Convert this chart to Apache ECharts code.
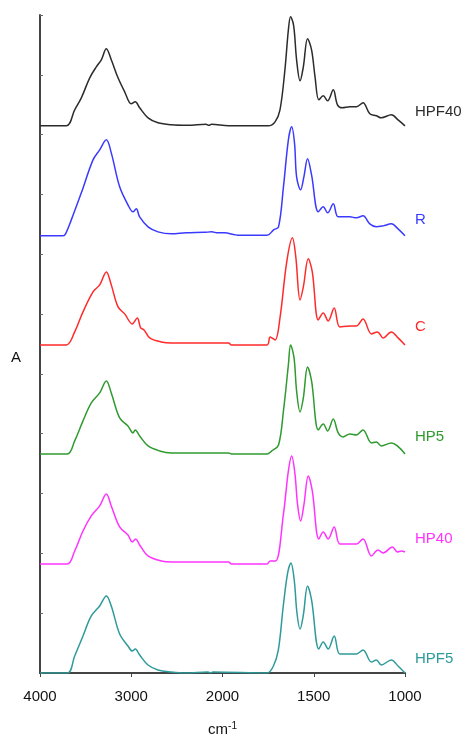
<!DOCTYPE html>
<html>
<head>
<meta charset="utf-8">
<script src="https://cdn.jsdelivr.net/npm/echarts@6/dist/echarts.min.js"></script>
<style>
  html, body { margin: 0; padding: 0; background: #fff; }
  #chart { width: 465px; height: 736px; }
</style>
</head>
<body>
<div id="chart"></div>
<script>
// FTIR spectra, stacked. x axis is split: 4000-2000 compressed, 2000-1000 expanded x2
var tickLabels = ['4000', '3000', '2000', '1500', '1000'];
var names = ['HPF40', 'R', 'C', 'HP5', 'HP40', 'HPF5'];
var colors = ['#2b2b2b', '#3a3aff', '#ff2a2a', '#2f9a2f', '#ff33ff', '#2e9a9a'];
var offsets = [547, 437, 328, 219, 109, 0];

// [wavenumber, absorbance] (arbitrary units)
var hpf40 = [[4000,0],[3712,0],[3620,16],[3547,28],[3455,48],[3383,59],[3328,66],[3273,77],[3219,66],[3145,48],[3072,34],[3000,22],[2956,24],[2908,18],[2816,8],[2707,3],[2561,1],[2380,0.5],[2180,1.5],[2150,0.5],[2120,1.5],[1967,0],[1749,0],[1712,4],[1685,16],[1658,56],[1639,96],[1627,109],[1610,100],[1594,66],[1575,45],[1557,59],[1534,87],[1512,76],[1493,49],[1472,26],[1448,30],[1424,25],[1393,36],[1370,21],[1344,18],[1302,19],[1266,19],[1230,23],[1193,12],[1157,10],[1130,8],[1075,11],[1038,6],[1000,0]];
var r = [[4000,0],[3748,0],[3720,2],[3657,16],[3547,43],[3419,76],[3346,86],[3273,96],[3219,83],[3127,49],[3036,31],[2981,24],[2945,27],[2908,19],[2816,9],[2707,4],[2561,2],[2400,3],[2200,3.5],[2120,4],[2050,3],[1990,3],[1930,1],[1902,0.5],[1756,0.5],[1720,6],[1693,9],[1666,49],[1639,96],[1621,109],[1605,92],[1594,59],[1572,46],[1554,59],[1534,77],[1512,61],[1475,24],[1448,29],[1424,23],[1393,32],[1366,19],[1302,19],[1266,18],[1230,20],[1193,12],[1157,9],[1120,10],[1075,12],[1038,7],[1000,0]];
var c = [[4000,0],[3712,0],[3620,13],[3529,33],[3419,53],[3346,60],[3273,73],[3219,60],[3145,38],[3072,31],[2989,21],[2934,27],[2897,17],[2860,15],[2798,7],[2671,3],[2561,2],[1967,2],[1951,0],[1756,0],[1739,8],[1712,5],[1685,27],[1648,83],[1617,107],[1599,89],[1575,45],[1557,58],[1530,86],[1508,73],[1475,25],[1448,32],[1421,24],[1388,37],[1357,18],[1302,19],[1266,19],[1230,26],[1184,11],[1151,13],[1120,7],[1075,13],[1038,7],[1000,0]];
var hp5 = [[4000,0],[3701,0],[3620,13],[3529,33],[3438,51],[3346,61],[3273,73],[3219,61],[3127,36],[3036,28],[2981,21],[2956,24],[2908,18],[2816,8],[2689,3],[2561,1],[1967,1],[1951,0],[1756,0],[1730,3],[1693,9],[1666,43],[1639,89],[1627,109],[1608,96],[1594,63],[1575,42],[1557,56],[1534,87],[1512,73],[1475,24],[1448,30],[1424,23],[1393,35],[1366,21],[1339,17],[1302,20],[1266,19],[1230,24],[1184,11],[1157,12],[1130,8],[1075,11],[1000,0]];
var hp40 = [[4000,0],[3701,0],[3620,13],[3529,33],[3438,48],[3346,58],[3273,70],[3219,58],[3127,37],[3036,29],[2989,22],[2952,25],[2908,19],[2816,8],[2671,3],[2561,2],[1967,2],[1951,0],[1756,0],[1739,3],[1709,3],[1666,50],[1639,93],[1621,108],[1603,90],[1589,60],[1572,43],[1554,59],[1530,88],[1508,73],[1472,25],[1448,32],[1421,25],[1388,37],[1357,20],[1302,20],[1266,20],[1230,25],[1184,8],[1148,14],[1120,11],[1069,17],[1042,12],[1020,13],[1000,12]];
var hpf5 = [[4000,0],[3701,0],[3620,17],[3529,37],[3438,57],[3346,67],[3273,77],[3219,67],[3127,39],[3036,27],[2989,22],[2956,24],[2908,18],[2816,8],[2707,3],[2561,1],[2400,0],[2160,1],[2130,0],[2107,1],[1756,0],[1721,7],[1694,23],[1667,67],[1643,100],[1625,110],[1607,93],[1592,60],[1575,44],[1557,58],[1534,87],[1512,73],[1472,24],[1448,31],[1421,24],[1388,37],[1357,19],[1302,19],[1266,19],[1230,23],[1184,11],[1157,13],[1130,8],[1075,13],[1038,7],[1000,0]];

var spectra = [hpf40, r, c, hp5, hp40, hpf5];
var labelShift = [-14, -16, -18, -17, -13, -14];

// wavenumber -> position on the split axis (0..4)
function toAxis(wn) {
    return wn >= 2000 ? (4000 - wn) / 1000 : 2 + (2000 - wn) / 500;
}

var myChart = echarts.init(document.getElementById('chart'));

var series = spectra.map(function (d, i) {
    return {
        name: names[i],
        type: 'line',
        smooth: 0.35,
        symbol: 'none',
        lineStyle: { color: colors[i], width: 1.5 },
        data: d.map(function (p) { return [toAxis(p[0]), p[1] + offsets[i]]; }),
        endLabel: {
            show: true,
            formatter: names[i],
            color: colors[i],
            fontSize: 15,
            fontFamily: 'Liberation Sans',
            distance: 10,
            offset: [0, labelShift[i]]
        }
    };
});

var option = {
    animation: false,
    grid: { left: 40, right: 60, top: 15, bottom: 63, outerBoundsMode: 'none', containLabel: false },
    xAxis: {
        type: 'value',
        min: 0,
        max: 4,
        interval: 1,
        name: 'cm{sup|-1}',
        nameLocation: 'middle',
        nameGap: 48,
        nameTextStyle: {
            color: '#111', fontSize: 15, fontFamily: 'Liberation Sans',
            rich: { sup: { fontSize: 10, verticalAlign: 'top', padding: [0, 0, 8, 0], fontFamily: 'Liberation Sans', color: '#111' } }
        },
        axisLine: { lineStyle: { color: '#444', width: 2 } },
        axisTick: { length: 4, lineStyle: { color: '#444' } },
        splitLine: { show: false },
        axisLabel: {
            color: '#111', fontSize: 15, fontFamily: 'Liberation Sans', margin: 16,
            formatter: function (v) { return tickLabels[Math.round(v)]; }
        }
    },
    yAxis: {
        type: 'value',
        min: 0,
        max: 657.8,
        interval: 59.8,
        name: 'A',
        nameLocation: 'middle',
        nameRotate: 0,
        nameGap: 19,
        nameTextStyle: { color: '#111', fontSize: 15, fontFamily: 'Liberation Sans', verticalAlign: 'top', padding: [6, 0, 0, 0] },
        axisLine: { show: true, lineStyle: { color: '#444', width: 2 } },
        axisTick: { show: true, inside: true, length: 3, lineStyle: { color: '#666' } },
        axisLabel: { show: false },
        splitLine: { show: false }
    },
    series: series
};

myChart.setOption(option);
</script>
</body>
</html>
